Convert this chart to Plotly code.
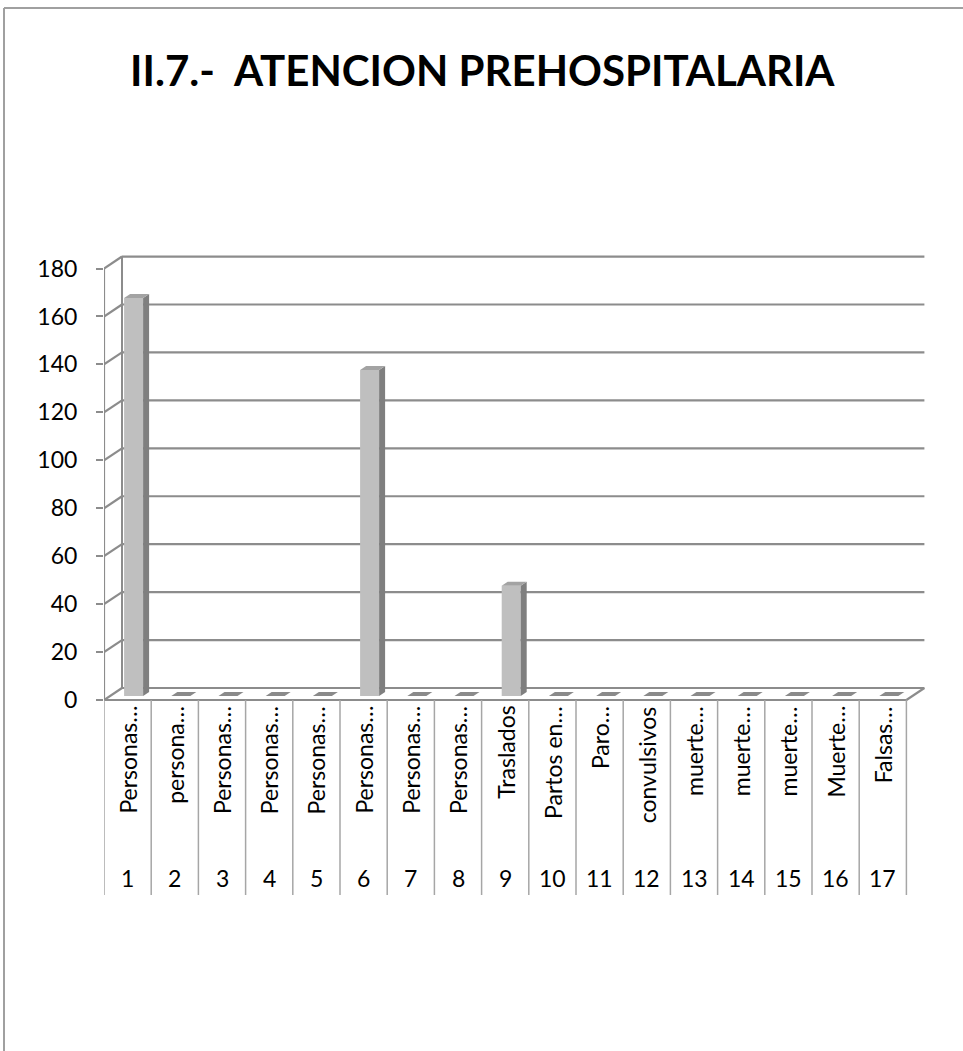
import plotly.graph_objects as go

# ---------------- data ----------------
categories = ["Personas…", "persona…", "Personas…", "Personas…", "Personas…",
              "Personas…", "Personas…", "Personas…", "Traslados", "Partos en…",
              "Paro…", "convulsivos", "muerte…", "muerte…", "muerte…",
              "Muerte…", "Falsas…"]
numbers = [str(i) for i in range(1, 18)]
values = [166, 0, 0, 0, 0, 136, 0, 0, 46, 0, 0, 0, 0, 0, 0, 0, 0]
y_ticks = list(range(0, 181, 20))
title = "II.7.-  ATENCION PREHOSPITALARIA"

# ---------------- geometry (pixel-derived layout) ----------------
FIG_W, FIG_H = 963, 1051
L, R, T, B = 104, 940, 250, 905
W, H = R - L, B - T
CX = 47.2            # px per category
CY = 2.397           # px per y unit
Y0PX = 700           # pixel row of y = 0 (front plane)
x_range = [0.5, 0.5 + W / CX]
y_range = [-(B - Y0PX) / CY, (Y0PX - T) / CY]

DXW = 18 / CX        # depth offset of the back wall (x units)
DYW = 12 / CY        # depth offset of the back wall (y units)
BAR_W = 19 / CX
F1, F2 = 1 / 3, 2 / 3
n = len(categories)
xs = [i + 1 for i in range(n)]

LINE_C = "#8c8c8c"
FONT = "Lato"

def py2y(py):
    return (Y0PX - py) / CY

def px_paper(px):
    return (px - L) / W

def py_paper(py):
    return (B - py) / H

shapes = []
# back-wall gridlines + left-wall diagonals
for v in y_ticks:
    shapes.append(dict(type="line", xref="x", yref="y", layer="below",
                       x0=0.5 + DXW, x1=n + 0.5 + DXW, y0=v + DYW, y1=v + DYW,
                       line=dict(color=LINE_C, width=2.2)))
    shapes.append(dict(type="line", xref="x", yref="y", layer="below",
                       x0=0.5, x1=0.5 + DXW, y0=v, y1=v + DYW,
                       line=dict(color=LINE_C, width=2.2)))
# left wall back edge
shapes.append(dict(type="line", xref="x", yref="y", layer="below",
                   x0=0.5 + DXW, x1=0.5 + DXW, y0=DYW, y1=y_ticks[-1] + DYW,
                   line=dict(color=LINE_C, width=2)))
# front value axis
shapes.append(dict(type="line", xref="x", yref="y", layer="below",
                   x0=0.5, x1=0.5, y0=0, y1=y_ticks[-1],
                   line=dict(color=LINE_C, width=2.2)))
# floor front edge and right diagonal
shapes.append(dict(type="line", xref="x", yref="y", layer="below",
                   x0=0.5, x1=n + 0.5, y0=0, y1=0,
                   line=dict(color=LINE_C, width=2.2)))
shapes.append(dict(type="line", xref="x", yref="y", layer="below",
                   x0=n + 0.5, x1=n + 0.5 + DXW, y0=0, y1=DYW,
                   line=dict(color=LINE_C, width=2.2)))
# category table dividers
for k in range(n + 1):
    shapes.append(dict(type="line", xref="x", yref="y", layer="below",
                       x0=0.5 + k, x1=0.5 + k, y0=0, y1=py2y(895),
                       line=dict(color="#a6a6a6", width=1.5)))
# chart border (top and left)
shapes.append(dict(type="line", xref="paper", yref="paper",
                   x0=px_paper(4), x1=px_paper(963), y0=py_paper(8), y1=py_paper(8),
                   line=dict(color="#a0a0a0", width=2)))
shapes.append(dict(type="line", xref="paper", yref="paper",
                   x0=px_paper(4), x1=px_paper(4), y0=py_paper(8), y1=py_paper(1051),
                   line=dict(color="#a0a0a0", width=2)))

fig = go.Figure()

ax = DXW * F1
ay = DYW * F1
bx = DXW * F2
by = DYW * F2

# front faces
fig.add_trace(go.Bar(
    x=[x + ax for x in xs], y=values, base=[ay] * n, width=BAR_W,
    marker=dict(color="#bfbfbf", line=dict(width=0)), hoverinfo="skip",
    showlegend=False))

# side and top faces
for x, v in zip(xs, values):
    xl = x - BAR_W / 2
    xr = x + BAR_W / 2
    if v > 0:
        fig.add_trace(go.Scatter(
            x=[xr + ax, xr + bx, xr + bx, xr + ax, xr + ax],
            y=[ay, by, v + by, v + ay, ay],
            mode="lines", fill="toself", fillcolor="#7f7f7f",
            line=dict(width=0, color="#7f7f7f"), hoverinfo="skip", showlegend=False))
    fig.add_trace(go.Scatter(
        x=[xl + ax, xr + ax, xr + bx, xl + bx, xl + ax],
        y=[v + ay, v + ay, v + by, v + by, v + ay],
        mode="lines", fill="toself",
        fillcolor="#a3a3a3" if v > 0 else "#8a8a8a",
        line=dict(width=0, color="#8a8a8a"), hoverinfo="skip", showlegend=False))

annotations = []
for x, lab, num in zip(xs, categories, numbers):
    annotations.append(dict(x=x, y=py2y(704), xref="x", yref="y", text=lab,
                            textangle=-90, xanchor="center", yanchor="top",
                            showarrow=False, font=dict(family=FONT, size=23, color="#000")))
    annotations.append(dict(x=x, y=py2y(878), xref="x", yref="y", text=num,
                            xanchor="center", yanchor="middle",
                            showarrow=False, font=dict(family=FONT, size=23, color="#000")))
annotations.append(dict(x=px_paper(482), y=py_paper(70), xref="paper", yref="paper",
                        text="<b>" + title + "</b>", showarrow=False,
                        xanchor="center", yanchor="middle",
                        font=dict(family=FONT, size=42, color="#000")))

fig.update_layout(
    width=FIG_W, height=FIG_H,
    margin=dict(l=L, r=FIG_W - R, t=T, b=FIG_H - B, pad=0),
    paper_bgcolor="white", plot_bgcolor="white",
    showlegend=False, barmode="overlay",
    shapes=shapes, annotations=annotations,
    xaxis=dict(range=x_range, showgrid=False, zeroline=False, showticklabels=False,
               showline=False, ticks="", fixedrange=True),
    yaxis=dict(range=y_range, showgrid=False, zeroline=False, showline=False,
               tickvals=y_ticks, ticktext=[str(v) for v in y_ticks],
               ticks="outside", ticklen=7, tickwidth=2, tickcolor=LINE_C,
               ticklabelstandoff=14,
               tickfont=dict(family=FONT, size=23, color="#000"), fixedrange=True),
)

fig.write_html("out.html", config={"displayModeBar": False},
               post_script="document.body.style.margin='0';")
